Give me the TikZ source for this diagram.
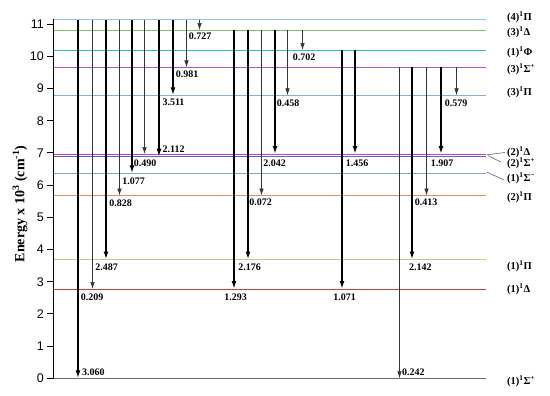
\documentclass[tikz,border=0pt]{standalone}
\usepackage{fontspec}
\setmainfont{Liberation Serif}
\newfontfamily\axfont{Liberation Sans}
\usetikzlibrary{arrows.meta}
\definecolor{cP4}{RGB}{150,195,230}
\definecolor{cD3}{RGB}{120,195,100}
\definecolor{cF}{RGB}{40,195,195}
\definecolor{cS3}{RGB}{175,80,225}
\definecolor{cP3}{RGB}{135,175,220}
\definecolor{cD2}{RGB}{195,60,205}
\definecolor{cS2}{RGB}{95,95,205}
\definecolor{cSm}{RGB}{125,165,215}
\definecolor{cP2}{RGB}{225,145,95}
\definecolor{cP1}{RGB}{200,200,130}
\definecolor{cD1}{RGB}{195,65,65}
\definecolor{cL0}{RGB}{105,105,105}
\newcommand\trans[4]{\draw[#1] ([xshift=#2bp]#3) -- ([xshift=#2bp]#4);}
\newcommand\lvl[2]{\draw[lev,#2] ([xshift=53.5bp]#1) -- ([xshift=486bp]#1);}
\begin{document}
\begin{tikzpicture}[x=1bp,y=-1bp,
  lev/.style={line width=0.9bp},
  thk/.style={line width=1.8bp,black,-{Latex[length=8bp,width=5bp]}},
  thn/.style={line width=0.7bp,black!80,-{Latex[length=7bp,width=4.5bp]}},
  num/.style={font=\fontsize{10bp}{12bp}\selectfont\bfseries,inner sep=0pt},
  stl/.style={font=\fontsize{10.5bp}{12bp}\selectfont\bfseries,inner sep=0pt,anchor=west},
  tick/.style={font=\axfont\fontsize{12.5bp}{14bp}\selectfont,inner sep=0pt,anchor=east}]
\useasboundingbox (0,0) rectangle (550,395);
% level coordinates
\coordinate (L0) at (0,378.3);
\coordinate (D1) at (0,289);
\coordinate (P1) at (0,259.5);
\coordinate (P2) at (0,195.5);
\coordinate (Sm) at (0,173.3);
\coordinate (S2) at (0,156.7);
\coordinate (D2) at (0,154);
\coordinate (P3) at (0,95.3);
\coordinate (S3) at (0,67.3);
\coordinate (F)  at (0,50);
\coordinate (D3) at (0,30);
\coordinate (P4) at (0,19.7);
% level lines
\lvl{P4}{cP4}
\lvl{D3}{cD3}
\lvl{F}{cF}
\lvl{S3}{cS3}
\lvl{P3}{cP3}
\lvl{S2}{cS2}
\lvl{D2}{cD2}
\lvl{Sm}{cSm}
\lvl{P2}{cP2}
\lvl{P1}{cP1}
\lvl{D1}{cD1}
\draw[line width=1.5bp,cL0] ([xshift=53.5bp]L0) -- ([xshift=486bp]L0);
% axis
\coordinate (axtop) at (53.5,19);
\coordinate (axbot) at (53.5,378.3);
\draw[line width=1bp] (axtop) -- (axbot);
\foreach \k in {0,...,11}{
  \coordinate (t\k) at (53.5,378.3-32.2*\k);
  \draw[line width=1bp] (t\k) -- ([xshift=-6.5bp]t\k);
  \node[tick] (tl\k) at ([xshift=-9.5bp]t\k) {\k};
}
\node[rotate=90,font=\fontsize{14bp}{16bp}\selectfont\bfseries,inner sep=0pt] (ylab) at (20,204)
  {Energy x 10\textsuperscript{3} (cm\textsuperscript{-1})};
% transitions from (4)1Pi
\trans{thk}{78}{P4}{L0}
\trans{thn}{92.5}{P4}{D1}
\trans{thk}{106}{P4}{P1}
\trans{thn}{119.5}{P4}{P2}
\trans{thk}{132}{P4}{Sm}
\trans{thn}{144.5}{P4}{D2}
\trans{thk}{159}{P4}{S2}
\trans{thk}{173}{P4}{P3}
\trans{thn}{186.5}{P4}{S3}
\trans{thn}{199.5}{P4}{D3}
% from (3)1Delta
\trans{thk}{234}{D3}{D1}
\trans{thk}{248}{D3}{P1}
\trans{thn}{261.5}{D3}{P2}
\trans{thk}{275}{D3}{D2}
\trans{thn}{287.5}{D3}{P3}
\trans{thn}{302.5}{D3}{F}
% from (1)1Phi
\trans{thk}{342}{F}{D1}
\trans{thk}{355}{F}{D2}
% from (3)1Sigma+
\trans{thn}{399.5}{S3}{L0}
\trans{thk}{412}{S3}{P1}
\trans{thn}{426.5}{S3}{P2}
\trans{thk}{441}{S3}{D2}
\trans{thn}{456.5}{S3}{P3}
% transition labels
\node[num,anchor=west] (n1) at (82,372) {3.060};
\node[num] (n2) at (92,297) {0.209};
\node[num] (n3) at (106.7,267.5) {2.487};
\node[num] (n4) at (120.5,203) {0.828};
\node[num] (n5) at (133.5,181) {1.077};
\node[num] (n6) at (145,163) {0.490};
\node[num,anchor=west] (n7) at (162.5,149) {2.112};
\node[num] (n8) at (173.5,102) {3.511};
\node[num] (n9) at (187,74) {0.981};
\node[num] (n10) at (200,36) {0.727};
\node[num] (n11) at (235.5,297) {1.293};
\node[num] (n12) at (249.5,267) {2.176};
\node[num] (n13) at (260.5,202) {0.072};
\node[num] (n14) at (274.7,163) {2.042};
\node[num] (n15) at (288,103) {0.458};
\node[num] (n16) at (304,57) {0.702};
\node[num] (n17) at (344.5,297) {1.071};
\node[num] (n18) at (357,163) {1.456};
\node[num,anchor=west] (n19) at (402,372) {0.242};
\node[num] (n20) at (420.3,267) {2.142};
\node[num] (n21) at (426,202) {0.413};
\node[num] (n22) at (442,163) {1.907};
\node[num] (n23) at (456,103) {0.579};
% state labels
\node[stl] (sP4) at (507,17) {(4)\textsuperscript{1}Π};
\node[stl] (sD3) at (507,32.5) {(3)\textsuperscript{1}Δ};
\node[stl] (sF)  at (507,52) {(1)\textsuperscript{1}Φ};
\node[stl] (sS3) at (507,69.5) {(3)\textsuperscript{1}Σ\textsuperscript{+}};
\node[stl] (sP3) at (507,92.5) {(3)\textsuperscript{1}Π};
\node[stl] (sD2) at (507,152.5) {(2)\textsuperscript{1}Δ};
\node[stl] (sS2) at (507,163) {(2)\textsuperscript{1}Σ\textsuperscript{+}};
\node[stl] (sSm) at (507,178) {(1)\textsuperscript{1}Σ\textsuperscript{−}};
\node[stl] (sP2) at (507,197) {(2)\textsuperscript{1}Π};
\node[stl] (sP1) at (507,266) {(1)\textsuperscript{1}Π};
\node[stl] (sD1) at (507,289.5) {(1)\textsuperscript{1}Δ};
\node[stl] (sL0) at (507,381) {(1)\textsuperscript{1}Σ\textsuperscript{+}};
% leader lines
\coordinate (k1) at (487,154.7);
\coordinate (k2) at (488,155.7);
\coordinate (k3) at (487.3,172.3);
\draw[line width=0.5bp,black!70] (k1) -- ([xshift=-2bp]sD2.west);
\draw[line width=0.5bp,black!70] (k2) -- ([xshift=-6bp,yshift=1bp]sS2.west);
\draw[line width=0.5bp,black!70] (k3) -- ([xshift=-3bp,yshift=-2bp]sSm.west);
\end{tikzpicture}
\end{document}
